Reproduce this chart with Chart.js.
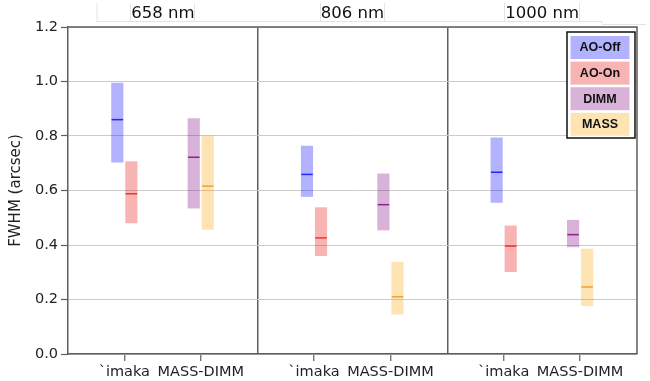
<!DOCTYPE html>
<html>
<head>
<meta charset="utf-8">
<script src="https://cdn.jsdelivr.net/npm/chart.js@4.4.1/dist/chart.umd.min.js"></script>
<style>
  html, body { margin: 0; padding: 0; background: #fff; }
  #wrap { width: 650px; height: 381px; }
</style>
</head>
<body>
<div id="wrap"><canvas id="c" width="650" height="381"></canvas></div>
<script>
// Wavelength panels and sites
const wavelengths = ['658 nm', '806 nm', '1000 nm'];
const sites = ['`imaka', 'MASS-DIMM'];
const seriesNames = ['AO-Off', 'AO-On', 'DIMM', 'MASS'];

// FWHM (arcsec): lower quartile, median, upper quartile per wavelength
const aoOffLow  = [0.704, 0.578, 0.556];
const aoOffMed  = [0.860, 0.659, 0.667];
const aoOffHigh = [0.994, 0.763, 0.793];

const aoOnLow   = [0.481, 0.361, 0.302];
const aoOnMed   = [0.588, 0.426, 0.396];
const aoOnHigh  = [0.706, 0.537, 0.470];

const dimmLow   = [0.535, 0.455, 0.393];
const dimmMed   = [0.722, 0.548, 0.438];
const dimmHigh  = [0.864, 0.661, 0.491];

const massLow   = [0.457, 0.146, 0.177];
const massMed   = [0.616, 0.210, 0.246];
const massHigh  = [0.801, 0.337, 0.385];

const yTicks = [0.0, 0.2, 0.4, 0.6, 0.8, 1.0, 1.2];

// Series bookkeeping
const seriesLow  = [aoOffLow, aoOnLow, dimmLow, massLow];
const seriesMed  = [aoOffMed, aoOnMed, dimmMed, massMed];
const seriesHigh = [aoOffHigh, aoOnHigh, dimmHigh, massHigh];
const seriesSite = [0, 0, 1, 1];       // which site tick each series sits beside
const seriesSide = [-1, 1, -1, 1];     // left / right of that tick

// Styling
const fills   = ['rgba(0,0,255,0.30)', 'rgba(232,20,20,0.32)', 'rgba(128,0,128,0.30)', 'rgba(250,165,0,0.30)'];
const medians = ['#2424ff', '#ee3434', '#8a228a', '#f0a234'];
const axisGrey = '#5e5e5e';
const textCol = '#222';
const FONT = '"DejaVu Sans", sans-serif';

// Horizontal layout inside each wavelength panel (panel width = 1 unit)
const sitePos = [0.297, 0.70];
const sideOffset = 0.037;

function xFor(g, i) {
  return g + sitePos[seriesSite[i]] + seriesSide[i] * sideOffset;
}

const datasets = [];
seriesNames.forEach((name, i) => {
  datasets.push({
    type: 'bar',
    label: name,
    data: wavelengths.map((w, g) => ({ x: xFor(g, i), y: [seriesLow[i][g], seriesHigh[i][g]] })),
    backgroundColor: fills[i],
    borderColor: fills[i],
    borderWidth: 0,
    barThickness: 11.5,
    grouped: false,
    order: 2
  });
});
seriesNames.forEach((name, i) => {
  datasets.push({
    type: 'scatter',
    label: name + ' median',
    data: wavelengths.map((w, g) => ({ x: xFor(g, i), y: seriesMed[i][g] })),
    pointStyle: 'line',
    pointRadius: 5.75,
    pointHoverRadius: 5.75,
    borderColor: medians[i],
    backgroundColor: medians[i],
    borderWidth: 1.5,
    showLine: false,
    order: 1
  });
});

// x ticks: site positions in each panel plus panel boundaries
const xTickValues = [];
const xTickLabels = [];
const xTickIsBoundary = [];
wavelengths.forEach((w, g) => {
  if (g > 0) { xTickValues.push(g); xTickLabels.push(''); xTickIsBoundary.push(true); }
  sites.forEach((s, k) => { xTickValues.push(g + sitePos[k]); xTickLabels.push(s); xTickIsBoundary.push(false); });
});

// Frame, panel headings and the boxed legend
const decorations = {
  id: 'decorations',
  afterDraw(chart) {
    const { ctx, chartArea: a, scales } = chart;
    ctx.save();
    // top and right spines
    ctx.strokeStyle = axisGrey;
    ctx.lineWidth = 1.5;
    ctx.beginPath();
    ctx.moveTo(a.left, a.top); ctx.lineTo(a.right, a.top); ctx.lineTo(a.right, a.bottom);
    ctx.stroke();

    // panel headings with their faint cell rules
    ctx.font = '16.5px ' + FONT;
    ctx.fillStyle = '#111';
    ctx.textAlign = 'center';
    ctx.textBaseline = 'middle';
    ctx.strokeStyle = '#e4e4e4';
    ctx.lineWidth = 1;
    const edges = [97];
    wavelengths.forEach((w, g) => {
      const cx = scales.x.getPixelForValue(g + 0.5);
      ctx.fillText(w, cx, 14);
      const tw = ctx.measureText(w).width;
      edges.push(Math.round(cx - tw / 2) - 0.5, Math.round(cx + tw / 2) + 0.5);
    });
    ctx.beginPath();
    edges.forEach(x => { ctx.moveTo(x, 3); ctx.lineTo(x, 22); });
    ctx.moveTo(97, 21.5); ctx.lineTo(602, 21.5);
    ctx.moveTo(602, 21.5); ctx.lineTo(602, 24.5); ctx.lineTo(646, 24.5);
    ctx.stroke();

    // legend box
    const bw = 68, bh = 106;
    const bx = a.right - 2 - bw, by = a.top + 5;
    ctx.fillStyle = '#fff';
    ctx.fillRect(bx, by, bw, bh);
    ctx.strokeStyle = '#111';
    ctx.lineWidth = 1.5;
    ctx.strokeRect(bx, by, bw, bh);
    ctx.font = 'bold 12.5px "Liberation Sans", Arial, sans-serif';
    seriesNames.forEach((name, i) => {
      const ex = bx + 3.5, ey = by + 4 + i * 25.6, ew = 59, eh = 23;
      ctx.fillStyle = fills[i];
      ctx.fillRect(ex, ey, ew, eh);
      ctx.fillStyle = '#111';
      ctx.fillText(name, ex + ew / 2, ey + eh / 2 + 0.5);
    });
    ctx.restore();
  }
};

new Chart(document.getElementById('c'), {
  type: 'bar',
  data: { datasets },
  options: {
    responsive: false,
    animation: false,
    events: [],
    layout: { padding: { left: 0, top: 27, right: 13, bottom: 0 } },
    plugins: { legend: { display: false }, tooltip: { enabled: false } },
    scales: {
      x: {
        type: 'linear',
        min: 0,
        max: wavelengths.length,
        offset: false,
        afterBuildTicks(scale) { scale.ticks = xTickValues.map(v => ({ value: v })); },
        afterFit(scale) { scale.height = 27; },
        ticks: {
          autoSkip: false,
          maxRotation: 0,
          padding: 3,
          color: textCol,
          font: { family: FONT, size: 14.5 },
          callback: (v, idx) => xTickLabels[idx]
        },
        grid: {
          offset: false,
          drawOnChartArea: true,
          color: c => (c.index !== undefined && xTickIsBoundary[c.index]) ? axisGrey : 'rgba(0,0,0,0)',
          lineWidth: 1.5,
          tickColor: c => (c.index !== undefined && xTickIsBoundary[c.index]) ? 'rgba(0,0,0,0)' : axisGrey,
          tickLength: 7,
          tickWidth: 1.2
        },
        border: { display: true, color: axisGrey, width: 1.5 }
      },
      y: {
        min: 0,
        max: 1.2,
        afterBuildTicks(scale) { scale.ticks = yTicks.map(v => ({ value: v })); },
        afterFit(scale) { scale.width = 68; },
        ticks: {
          padding: 3,
          color: textCol,
          font: { family: FONT, size: 14.5 },
          callback: v => Number(v).toFixed(1)
        },
        grid: {
          color: '#cbcbcb',
          lineWidth: 1,
          tickColor: axisGrey,
          tickLength: 7,
          tickWidth: 1.2
        },
        border: { display: true, color: axisGrey, width: 1.5 },
        title: {
          display: true,
          text: 'FWHM (arcsec)',
          color: textCol,
          font: { family: FONT, size: 15 },
          padding: { top: 7, bottom: 4 }
        }
      }
    }
  },
  plugins: [decorations]
});
</script>
</body>
</html>
